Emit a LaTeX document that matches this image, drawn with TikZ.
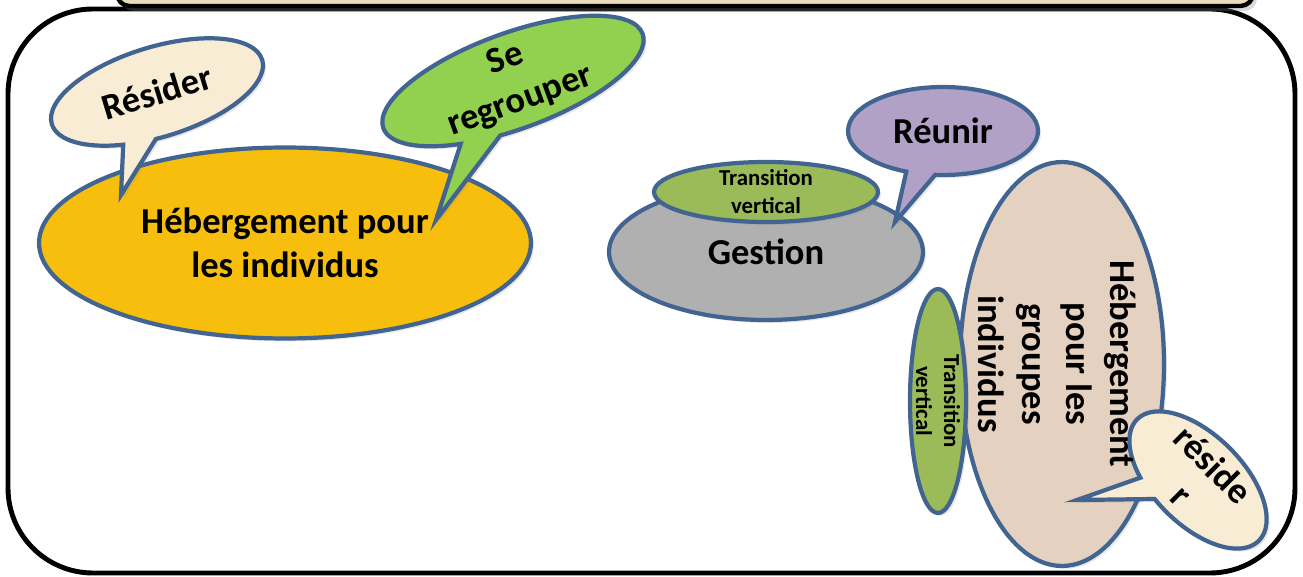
\documentclass[tikz,border=0pt]{standalone}
\usepackage{fontspec}
\setmainfont{Carlito}
\usepackage{tikz}
\usetikzlibrary{shapes.geometric,shapes.callouts,shadows}

\definecolor{edgeblue}{RGB}{65,100,145}
\definecolor{yellowfill}{RGB}{248,190,14}
\definecolor{creamfill}{RGB}{249,236,213}
\definecolor{greenfill}{RGB}{146,208,80}
\definecolor{olivefill}{RGB}{155,187,89}
\definecolor{greyfill}{RGB}{176,176,176}
\definecolor{purplefill}{RGB}{178,161,199}
\definecolor{beigefill}{RGB}{228,209,192}
\definecolor{tanfill}{RGB}{232,220,188}

\begin{document}
\begin{tikzpicture}[
  x=0.02cm, y=-0.02cm,
  blob/.style={ellipse, draw=edgeblue, line width=2.4pt, inner sep=-1cm, align=center,
    drop shadow={opacity=0.18, shadow xshift=0.6mm, shadow yshift=-0.6mm}},
  bubble/.style={blob, ellipse callout, callout pointer arc=18},
  bigtxt/.style={font=\fontsize{20.8}{25}\selectfont\bfseries},
  smalltxt/.style={font=\fontsize{13}{16}\selectfont\bfseries}]
\useasboundingbox (0,0) rectangle (1303,577);
% cadre
\draw[line width=2.8pt, rounded corners=1.7cm] (8,9) rectangle (1295,573);
\draw[line width=2.5pt, fill=tanfill, rounded corners=0.25cm,
  drop shadow={opacity=0.3, shadow xshift=0.8mm, shadow yshift=-1mm}] (117,-40) rectangle (1253,6);
% individus
\node[blob, fill=yellowfill, minimum width=9.84cm, minimum height=3.82cm, bigtxt] (indiv) at (285,243) {Hébergement pour\\les individus};
\node[bubble, fill=creamfill, minimum width=4.4cm, minimum height=1.8cm, rotate=17, bigtxt,
  callout absolute pointer={(121,195)}] (resider) at (157,92) {Résider};
\node[bubble, fill=greenfill, minimum width=5.52cm, minimum height=1.92cm, rotate=20, bigtxt,
  callout absolute pointer={(436,220)}] (regrouper) at (513,81) {Se\\regrouper};
% gestion
\node[blob, fill=greyfill, minimum width=6.28cm, minimum height=2.72cm, bigtxt] (gestion) at (766,252) {Gestion};
\node[blob, fill=olivefill, minimum width=4.48cm, minimum height=1.2cm, smalltxt] (transA) at (766,192) {Transition\\vertical};
\node[bubble, fill=purplefill, minimum width=3.8cm, minimum height=1.76cm, bigtxt,
  callout absolute pointer={(895,222)}] (reunir) at (943,131) {Réunir};
% groupes
\node[blob, fill=beigefill, minimum width=8.08cm, minimum height=4.08cm, rotate=-90] (groupes) at (1062,364) {};
\node[blob, fill=olivefill, minimum width=4.48cm, minimum height=1.12cm, rotate=-90, smalltxt] (transB) at (938,401) {Transition\\vertical};
\node[bubble, fill=creamfill, minimum width=3.44cm, minimum height=1.8cm, rotate=-45, bigtxt,
  callout absolute pointer={(1077,500)}] (reside) at (1198,480) {réside\\r};
\node[bigtxt, rotate=-90, align=center] (groupestxt) at ([xshift=-0.1cm]groupes.center) {Hébergement\\pour les\\groupes\\individus};
\end{tikzpicture}
\end{document}
